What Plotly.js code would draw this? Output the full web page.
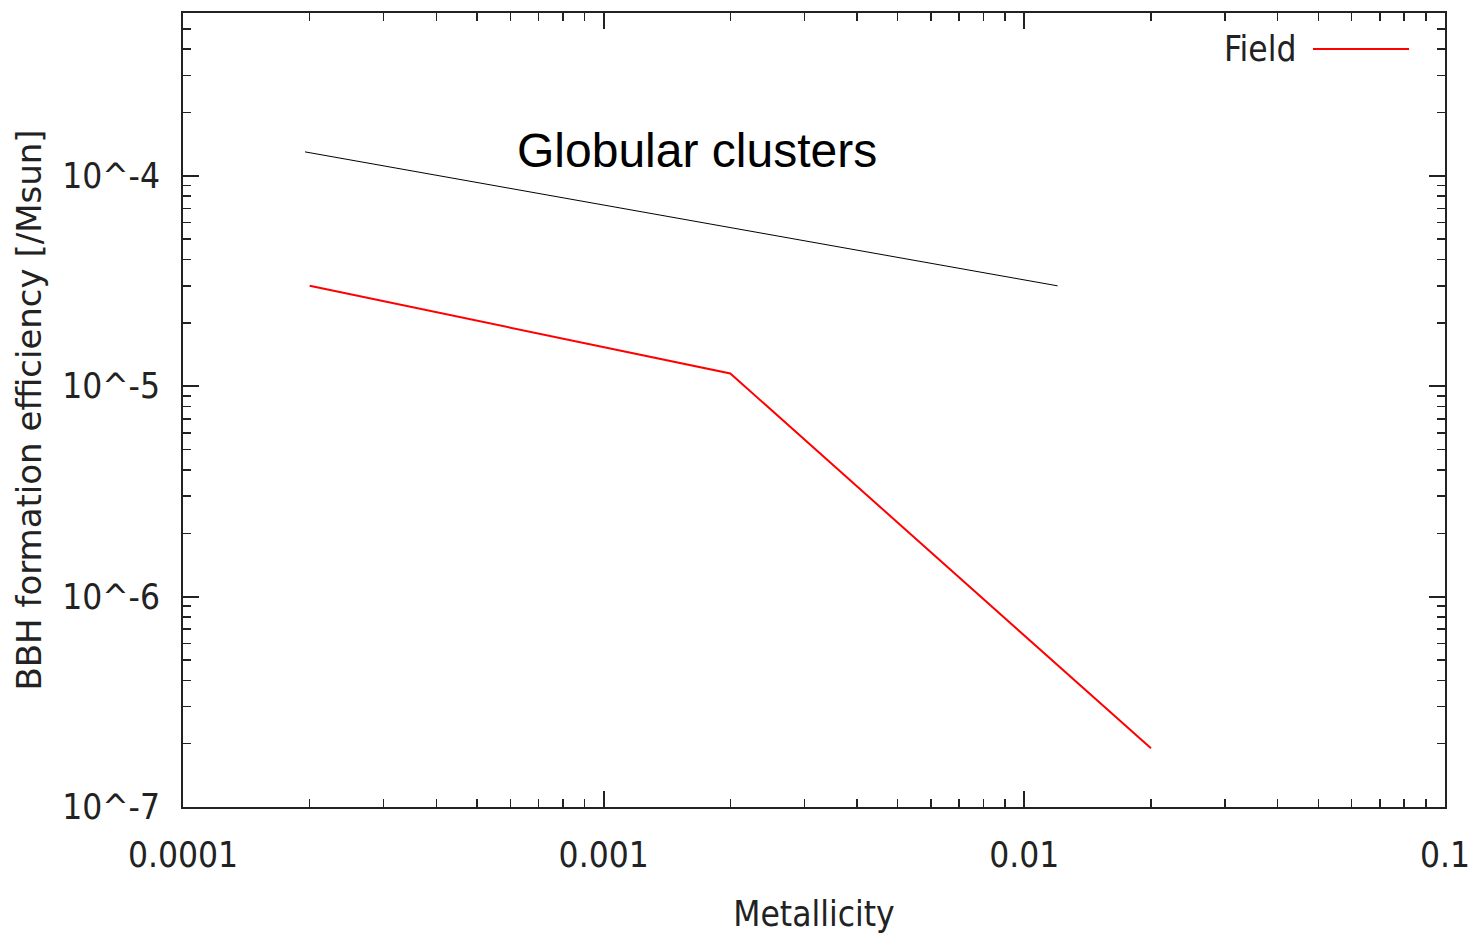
<!DOCTYPE html>
<html>
<head>
<meta charset="utf-8">
<script src="https://cdn.plot.ly/plotly-3.0.1.min.js"></script>
<style>html,body{margin:0;padding:0;background:#fff;}#chart{width:1480px;height:934px;}</style>
</head>
<body>
<div id="chart"></div>
<script>
// Data
const fieldMetallicity = [0.0002, 0.002, 0.02];
const fieldEfficiency = [3.0e-5, 1.15e-5, 1.9e-7];
const gcMetallicity = [0.000195, 0.012];
const gcEfficiency = [1.3e-4, 3.0e-5];
const xTickVals = [0.0001, 0.001, 0.01, 0.1];
const xTickText = ["0.0001", "0.001", "0.01", "0.1"];
const yTickVals = [1e-7, 1e-6, 1e-5, 1e-4];
const yTickText = ["10^-7", "10^-6", "10^-5", "10^-4"];

const condFont = "DejaVu Sans Condensed, DejaVu Sans";
const tickFont = {family: condFont, size: 35, color: "#222"};

const traces = [
  {x: fieldMetallicity, y: fieldEfficiency, type: "scatter", mode: "lines",
   line: {color: "#ff0000", width: 2}, name: "Field", showlegend: false, hoverinfo: "skip"},
  {x: gcMetallicity, y: gcEfficiency, type: "scatter", mode: "lines",
   line: {color: "#000000", width: 1}, name: "Globular clusters", showlegend: false, hoverinfo: "skip"}
];

const axisCommon = {
  type: "log", showgrid: false, zeroline: false,
  showline: true, linecolor: "#222", linewidth: 2, mirror: "allticks",
  ticks: "inside", ticklen: 16, tickwidth: 2, tickcolor: "#222",
  tickfont: tickFont,
  minor: {ticks: "inside", ticklen: 8, tickwidth: 1.5, tickcolor: "#222", dtick: "D1", showgrid: false}
};

const layout = {
  width: 1480, height: 934,
  margin: {l: 183, r: 35, t: 13, b: 127},
  paper_bgcolor: "#fff", plot_bgcolor: "#fff",
  showlegend: false,
  xaxis: Object.assign({}, axisCommon, {
    range: [-4, -1], tickvals: xTickVals, ticktext: xTickText,
    ticklabelstandoff: 16,
    title: {text: "Metallicity", font: {family: condFont, size: 35, color: "#222"}, standoff: 32}
  }),
  yaxis: Object.assign({}, axisCommon, {
    range: [-7, -3.226], tickvals: yTickVals, ticktext: yTickText,
    ticklabelstandoff: 14,
    title: {text: "BBH formation efficiency [/Msun]", font: {family: "DejaVu Sans", size: 34, color: "#222"}, standoff: 10}
  }),
  annotations: [
    {xref: "paper", yref: "paper", x: 0.407, y: 0.827, xanchor: "center", yanchor: "middle",
     text: "Globular clusters", showarrow: false,
     font: {family: "Liberation Sans", size: 48, color: "#000"}},
    {xref: "paper", yref: "paper", x: 0.8835, y: 0.9547, xanchor: "right", yanchor: "middle",
     text: "Field", showarrow: false,
     font: {family: condFont, size: 35, color: "#222"}}
  ],
  shapes: [
    {type: "line", xref: "paper", yref: "paper", x0: 0.8954, x1: 0.9715, y0: 0.9547, y1: 0.9547,
     line: {color: "#ff0000", width: 2}}
  ]
};

Plotly.newPlot("chart", traces, layout, {displayModeBar: false, staticPlot: true});
</script>
</body>
</html>
